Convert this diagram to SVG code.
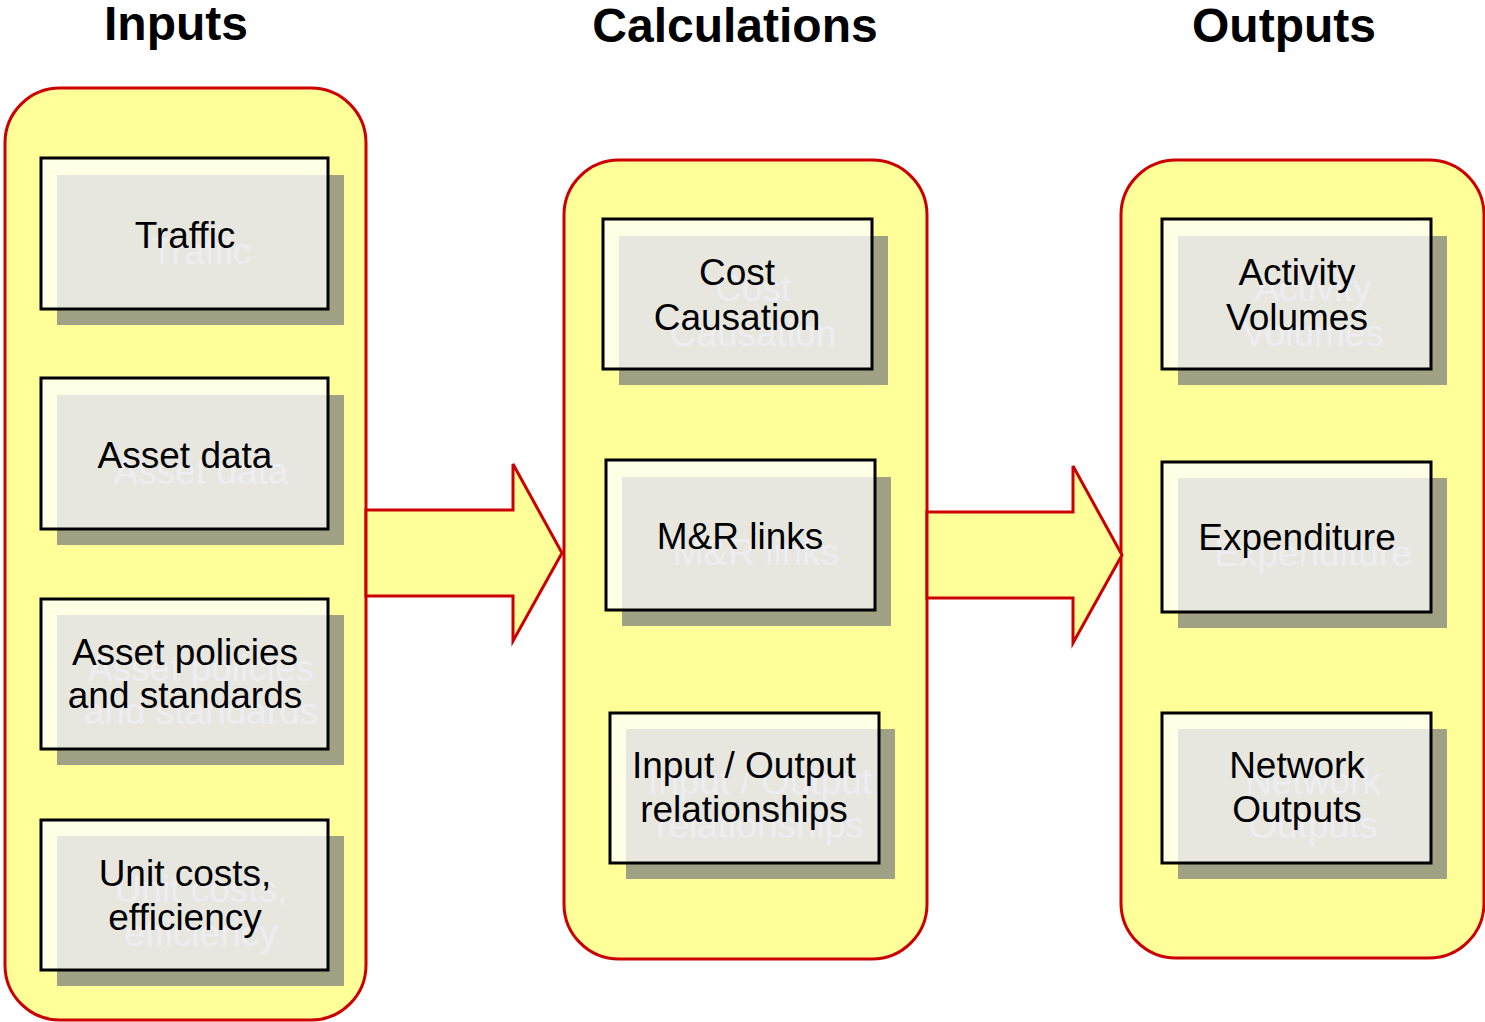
<svg xmlns="http://www.w3.org/2000/svg" width="1485" height="1022" viewBox="0 0 1485 1022">
<style>
.hd{font-family:"Liberation Sans",Arial,sans-serif;font-weight:bold;font-size:48px;fill:#000;text-anchor:middle}
.cont{fill:#ffff99;stroke:#cc0000;stroke-width:3}
.arr{fill:#ffff99;stroke:#cc0000;stroke-width:3;stroke-linejoin:miter}
.sh{fill:#a0a084}
.box{fill:#ffffff;fill-opacity:0.75;stroke:#000;stroke-width:3}
.t{font-family:"Liberation Sans",Arial,sans-serif;font-size:37px;fill:#000;text-anchor:middle}
.ts{font-family:"Liberation Sans",Arial,sans-serif;font-size:37px;fill:#b8b8cc;text-anchor:middle}
</style>
<rect width="1485" height="1022" fill="#ffffff"/>
<g id="headings">
<text class="hd" x="176" y="40">Inputs</text>
<text class="hd" x="735" y="42">Calculations</text>
<text class="hd" x="1284" y="42">Outputs</text>
</g>
<g id="containers">
<rect id="inputs" class="cont" x="5" y="88" width="361" height="932" rx="55" ry="55"/>
<rect id="calculations" class="cont" x="564" y="160" width="363" height="799" rx="55" ry="55"/>
<rect id="outputs" class="cont" x="1121" y="160" width="363" height="798" rx="55" ry="55"/>
</g>
<g id="connectors">
<path class="arr" d="M366,510 H513 V464 L562,553 L513,641 V596 H366 Z"/>
<path class="arr" d="M927,512 H1073 V466 L1122,555 L1073,643 V598 H927 Z"/>
</g>
<g id="node-traffic">
<rect class="sh" x="57" y="175" width="287" height="150"/>
<text class="ts" x="201" y="264">Traffic</text>
<rect class="box" x="41" y="158" width="287" height="151"/>
<text class="t" x="185" y="248">Traffic</text>
</g>
<g id="node-asset-data">
<rect class="sh" x="57" y="395" width="287" height="150"/>
<text class="ts" x="201" y="484">Asset data</text>
<rect class="box" x="41" y="378" width="287" height="151"/>
<text class="t" x="185" y="468">Asset data</text>
</g>
<g id="node-asset-policies">
<rect class="sh" x="57" y="615" width="287" height="150"/>
<text class="ts" x="201" y="681">Asset policies</text>
<text class="ts" x="201" y="724">and standards</text>
<rect class="box" x="41" y="599" width="287" height="150"/>
<text class="t" x="185" y="665">Asset policies</text>
<text class="t" x="185" y="708">and standards</text>
</g>
<g id="node-unit-costs">
<rect class="sh" x="57" y="836" width="287" height="150"/>
<text class="ts" x="201" y="902">Unit costs,</text>
<text class="ts" x="201" y="946">efficiency</text>
<rect class="box" x="41" y="820" width="287" height="150"/>
<text class="t" x="185" y="886">Unit costs,</text>
<text class="t" x="185" y="930">efficiency</text>
</g>
<g id="node-cost-causation">
<rect class="sh" x="619" y="236" width="269" height="149"/>
<text class="ts" x="753" y="301">Cost</text>
<text class="ts" x="753" y="346">Causation</text>
<rect class="box" x="603" y="219" width="269" height="150"/>
<text class="t" x="737" y="285">Cost</text>
<text class="t" x="737" y="330">Causation</text>
</g>
<g id="node-mr-links">
<rect class="sh" x="622" y="477" width="269" height="149"/>
<text class="ts" x="756" y="565">M&amp;R links</text>
<rect class="box" x="606" y="460" width="269" height="150"/>
<text class="t" x="740" y="549">M&amp;R links</text>
</g>
<g id="node-input-output">
<rect class="sh" x="626" y="729" width="269" height="150"/>
<text class="ts" x="760" y="794">Input / Output</text>
<text class="ts" x="760" y="838">relationships</text>
<rect class="box" x="610" y="713" width="269" height="150"/>
<text class="t" x="744" y="778">Input / Output</text>
<text class="t" x="744" y="822">relationships</text>
</g>
<g id="node-activity-volumes">
<rect class="sh" x="1178" y="236" width="269" height="149"/>
<text class="ts" x="1313" y="301">Activity</text>
<text class="ts" x="1313" y="346">Volumes</text>
<rect class="box" x="1162" y="219" width="269" height="150"/>
<text class="t" x="1297" y="285">Activity</text>
<text class="t" x="1297" y="330">Volumes</text>
</g>
<g id="node-expenditure">
<rect class="sh" x="1178" y="478" width="269" height="150"/>
<text class="ts" x="1313" y="566">Expenditure</text>
<rect class="box" x="1162" y="462" width="269" height="150"/>
<text class="t" x="1297" y="550">Expenditure</text>
</g>
<g id="node-network-outputs">
<rect class="sh" x="1178" y="729" width="269" height="150"/>
<text class="ts" x="1313" y="794">Network</text>
<text class="ts" x="1313" y="838">Outputs</text>
<rect class="box" x="1162" y="713" width="269" height="150"/>
<text class="t" x="1297" y="778">Network</text>
<text class="t" x="1297" y="822">Outputs</text>
</g>
</svg>
